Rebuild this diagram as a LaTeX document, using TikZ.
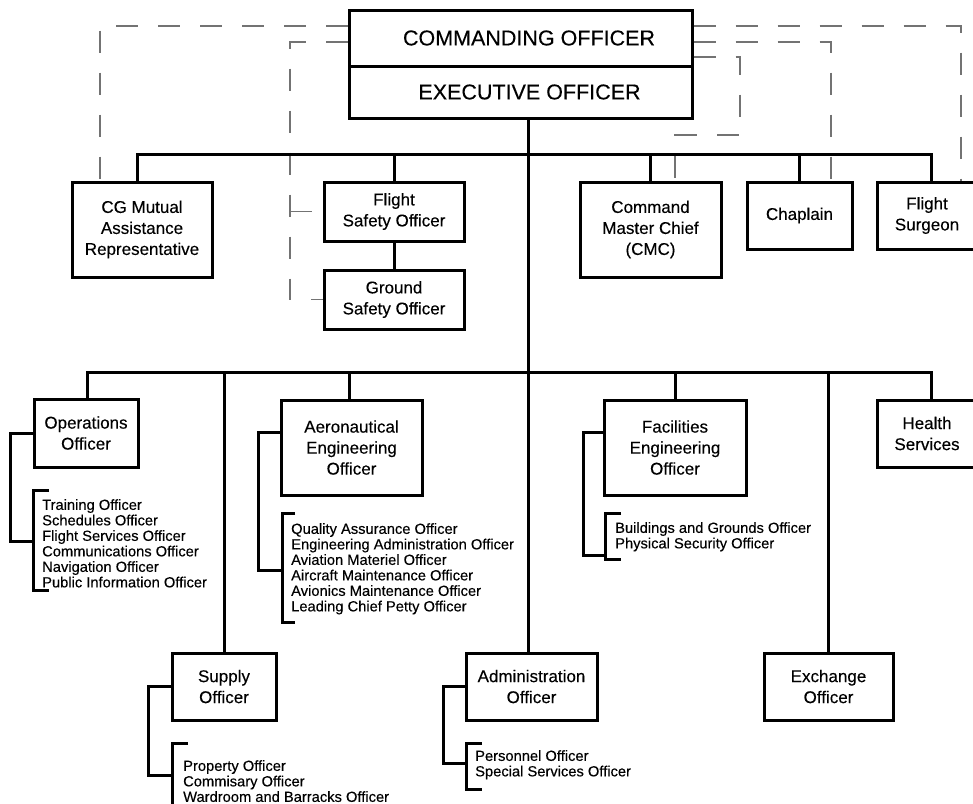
\documentclass[tikz,border=0pt]{standalone}
\usepackage{fontspec}
\setmainfont[FakeBold=0.25]{Liberation Sans}
\usetikzlibrary{calc}
\newcommand\ttlfont{\fontsize{21.5}{25}\selectfont}
\newcommand\bxfont{\fontsize{17}{21}\selectfont}
\newcommand\lstfont{\fontsize{14.7}{15.5}\selectfont}
\begin{document}
\begin{tikzpicture}[x=1pt,y=-1pt,
  box/.style={draw, line width=3pt, inner sep=0pt, align=center, font=\bxfont},
  lst/.style={anchor=north west, inner sep=0pt, align=left, font=\lstfont},
  conn/.style={line width=3pt},
  brk/.style={line width=3pt},
  dsh/.style={draw=black!55, line width=1.2pt, dash pattern=on 22pt off 20pt}]
\useasboundingbox (0,0) rectangle (973,803);
\clip (0,0) rectangle (973,803);

% boxes
\node[box, minimum width=343, minimum height=56, font=\ttlfont] (co) at (520.5,38) {\hspace*{17pt}COMMANDING OFFICER};
\node[box, minimum width=343, minimum height=52, font=\ttlfont] (xo) at (520.5,92) {\hspace*{18pt}\raisebox{-5pt}{EXECUTIVE OFFICER}};
\node[box, minimum width=140, minimum height=95] (cg) at (142,229.5) {CG Mutual\\Assistance\\Representative};
\node[box, minimum width=140, minimum height=59] (fso) at (394,211.5) {Flight\\Safety Officer};
\node[box, minimum width=140, minimum height=59] (gso) at (394,299.5) {Ground\\Safety Officer};
\node[box, minimum width=141, minimum height=95] (cmc) at (650.5,229.5) {Command\\Master Chief\\(CMC)};
\node[box, minimum width=105, minimum height=67] (chap) at (799.5,215.5) {Chaplain};
\node[box, minimum width=100, minimum height=67] (fsurg) at (927,215.5) {Flight\\Surgeon};
\node[box, minimum width=104, minimum height=68] (ops) at (86,433) {Operations\\Officer};
\node[box, minimum width=141, minimum height=95] (aero) at (351.5,447.5) {Aeronautical\\Engineering\\Officer};
\node[box, minimum width=142, minimum height=95] (fac) at (675,447.5) {Facilities\\Engineering\\Officer};
\node[box, minimum width=100, minimum height=67] (health) at (927,433.5) {Health\\Services};
\node[box, minimum width=104, minimum height=67] (sup) at (224,686.5) {Supply\\Officer};
\node[box, minimum width=131, minimum height=67] (adm) at (531.5,686.5) {Administration\\Officer};
\node[box, minimum width=129, minimum height=67] (exch) at (828.5,686.5) {Exchange\\Officer};

% lists
\node[lst] (opsl) at (42,499) {Training Officer\\Schedules Officer\\Flight Services Officer\\Communications Officer\\Navigation Officer\\Public Information Officer};
\node[lst] (aerol) at (291,523) {Quality Assurance Officer\\Engineering Administration Officer\\Aviation Materiel Officer\\Aircraft Maintenance Officer\\Avionics Maintenance Officer\\Leading Chief Petty Officer};
\node[lst] (facl) at (615,522) {Buildings and Grounds Officer\\Physical Security Officer};
\node[lst] (supl) at (183,760) {Property Officer\\Commisary Officer\\Wardroom and Barracks Officer};
\node[lst] (adml) at (475,750) {Personnel Officer\\Special Services Officer};

% dashed staff lines
\coordinate (dy1) at (0,26);
\coordinate (dy2) at (0,42);
\coordinate (dy3) at (0,57);
\coordinate (dx2) at (290,0);
\draw[dsh] (co.west |- dy1) -| ([xshift=-42pt]cg.north);
\draw[dsh] (co.west |- dy2) -| (gso.west -| dx2) -- (gso.west);
\draw[dsh] (fso.west -| dx2) -- (fso.west);
\draw[dsh] (co.east |- dy1) -| ([xshift=34pt]fsurg.north);
\draw[dsh] (co.east |- dy2) -| ([xshift=31.5pt]chap.north);
\coordinate (dk1) at (740,135);
\coordinate (dk2) at (675,135);
\draw[dsh] (co.east |- dy3) -| (dk1) -- (dk2) -- ([xshift=24.5pt]cmc.north);

% solid connectors
\coordinate (bus1) at (528,154);
\coordinate (bus2) at (528,372);
\coordinate (cgd) at ([xshift=-5pt]cg.north);
\coordinate (fsd) at ([xshift=4pt]fsurg.north);
\coordinate (opsd) at ([xshift=1pt]ops.north);
\coordinate (hd) at ([xshift=4pt]health.north);
\coordinate (aed) at ([xshift=-2.5pt]aero.north);
\draw[conn] (xo.south -| bus1) -- (adm.north -| bus1);
\draw[conn] (cgd) |- (bus1) -| (fsd);
\foreach \n in {fso,cmc,chap}{\draw[conn] (\n.north) -- (\n.north |- bus1);}
\draw[conn] (fso.south) -- (gso.north);
\draw[conn] (opsd) |- (bus2) -| (hd);
\draw[conn] (aed) -- (aed |- bus2);
\foreach \n in {sup,fac,exch}{\draw[conn] (\n.north) -- (\n.north |- bus2);}

% sub-unit trunks
\coordinate (opsb) at (33,541);
\coordinate (aerot) at (281,432);
\coordinate (aerob) at (282,570);
\coordinate (fact) at (604,432);
\coordinate (facb) at (605,555);
\coordinate (supb) at (172,775);
\coordinate (admb) at (466,763);
\draw[conn] (ops.west) -- ++(-22,0) |- (opsb);
\draw[conn] (aerot) -- ++(-23,0) |- (aerob);
\draw[conn] (fact) -- ++(-21,0) |- (facb);
\draw[conn] (sup.west) -- ++(-22,0) |- (supb);
\draw[conn] (adm.west) -- ++(-21,0) |- (admb);

% brackets
\draw[brk] (49,490) -- (33,490) -- (33,590) -- (49,590);
\draw[brk] (295,513) -- (282,513) -- (282,622) -- (295,622);
\draw[brk] (621,513) -- (605,513) -- (605,559) -- (621,559);
\draw[brk] (188,743) -- (172,743) -- (172,808);
\draw[brk] (482,743) -- (466,743) -- (466,789) -- (482,789);
\end{tikzpicture}
\end{document}
